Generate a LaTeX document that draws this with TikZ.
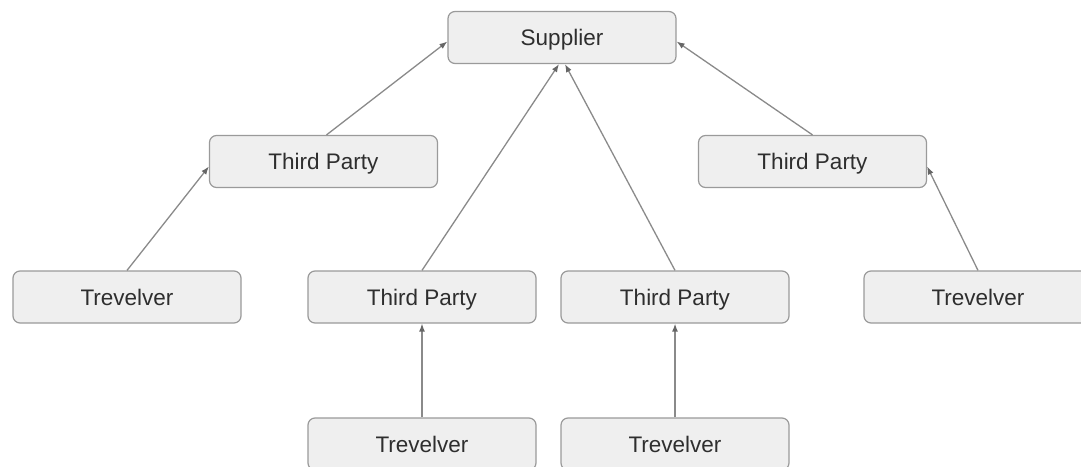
\documentclass[tikz,border=0pt]{standalone}
\usepackage{fontspec}
\setmainfont{Liberation Sans}
\usetikzlibrary{arrows.meta}
\definecolor{boxfill}{HTML}{EFEFEF}
\definecolor{boxline}{HTML}{9A9A9A}
\definecolor{linkc}{HTML}{8A8A8A}
\definecolor{tipc}{HTML}{666666}
\definecolor{txt}{HTML}{2E2E2E}
\tikzset{
  entity/.style={draw=boxline, line width=1.2pt, fill=boxfill, rounded corners=7pt,
    minimum width=228pt, minimum height=52pt, inner sep=0pt, text=txt,
    font=\fontsize{22.5}{26}\selectfont, text height=16pt, text depth=0pt},
  link/.style={draw=linkc, line width=1.3pt, -{Latex[length=8pt,width=6pt,color=tipc]}}
}
\begin{document}
\begin{tikzpicture}[x=1pt,y=-1pt]
\useasboundingbox (0,0) rectangle (1081,466);
\node[entity] (sup) at (562,37.5) {Supplier};
\node[entity] (tpl) at (323.5,161.5) {Third Party};
\node[entity] (tpr) at (812.5,161.5) {Third Party};
\node[entity] (trl) at (127,297) {Trevelver};
\node[entity] (tpml) at (422,297) {Third Party};
\node[entity] (tpmr) at (675,297) {Third Party};
\node[entity] (trr) at (978,297) {Trevelver};
\node[entity] (trbl) at (422,444) {Trevelver};
\node[entity] (trbr) at (675,444) {Trevelver};
\draw[link] ([xshift=3pt]tpl.north) -- ([yshift=-4pt]sup.west);
\draw[link] (tpr.north) -- ([yshift=-4pt]sup.east);
\draw[link] (tpml.north) -- ([xshift=-3pt]sup.south);
\draw[link] (tpmr.north) -- ([xshift=3pt]sup.south);
\draw[link] (trl.north) -- ([yshift=-5pt]tpl.west);
\draw[link] (trr.north) -- ([yshift=-5pt]tpr.east);
\draw[link] (trbl.north) -- (tpml.south);
\draw[link] (trbr.north) -- (tpmr.south);
\end{tikzpicture}
\end{document}
